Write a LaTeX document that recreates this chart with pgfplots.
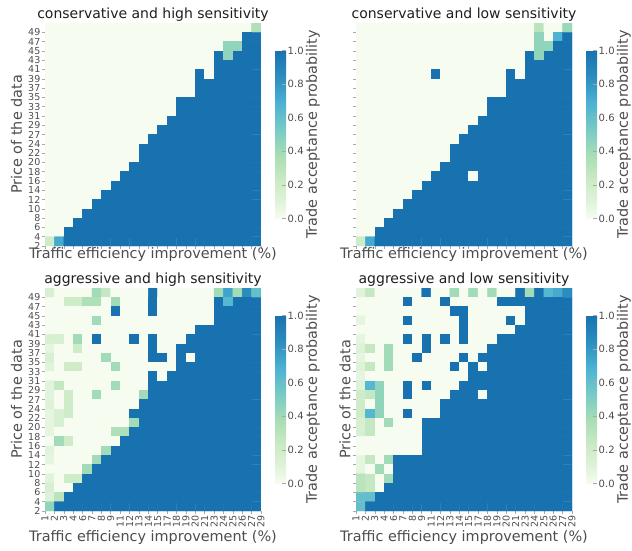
\documentclass[border=0pt]{standalone}
\usepackage{fontspec}
\setmainfont{DejaVu Sans}
\usepackage{pgfplots}
\usepackage{pgfplotstable}
\pgfplotsset{compat=1.18}

\definecolor{lblgray}{RGB}{77,77,77}
\definecolor{tkgray}{RGB}{170,170,170}
\definecolor{ttlblack}{RGB}{30,30,30}

\pgfplotsset{colormap={gnbu}{rgb255(0pt)=(247,252,240) rgb255(10pt)=(224,243,219)
  rgb255(22pt)=(204,235,197) rgb255(38pt)=(168,221,181) rgb255(52pt)=(123,204,196)
  rgb255(68pt)=(78,179,211) rgb255(85pt)=(43,140,190) rgb255(100pt)=(25,114,176)}}

% acceptance probability per cell: 23 columns, 24 rows, top row first
\pgfplotstableread[row sep=\\]{
c\\
0\\ 0\\ 0\\ 0\\ 0\\  0\\ 0\\ 0\\ 0\\ 0\\  0\\ 0\\ 0\\ 0\\ 0\\  0\\ 0\\ 0\\ 0\\ 0\\  0\\ 0\\ 0.35\\
0\\ 0\\ 0\\ 0\\ 0\\  0\\ 0\\ 0\\ 0\\ 0\\  0\\ 0\\ 0\\ 0\\ 0\\  0\\ 0\\ 0\\ 0\\ 0\\  0\\ 1\\ 1\\
0\\ 0\\ 0\\ 0\\ 0\\  0\\ 0\\ 0\\ 0\\ 0\\  0\\ 0\\ 0\\ 0\\ 0\\  0\\ 0\\ 0\\ 0\\ 0.45\\  0.45\\ 1\\ 1\\
0\\ 0\\ 0\\ 0\\ 0\\  0\\ 0\\ 0\\ 0\\ 0\\  0\\ 0\\ 0\\ 0\\ 0\\  0\\ 0\\ 0\\ 1\\ 0.45\\  1\\ 1\\ 1\\
0\\ 0\\ 0\\ 0\\ 0\\  0\\ 0\\ 0\\ 0\\ 0\\  0\\ 0\\ 0\\ 0\\ 0\\  0\\ 0\\ 0\\ 1\\ 1\\  1\\ 1\\ 1\\
0\\ 0\\ 0\\ 0\\ 0\\  0\\ 0\\ 0\\ 0\\ 0\\  0\\ 0\\ 0\\ 0\\ 0\\  0\\ 1\\ 0\\ 1\\ 1\\  1\\ 1\\ 1\\
0\\ 0\\ 0\\ 0\\ 0\\  0\\ 0\\ 0\\ 0\\ 0\\  0\\ 0\\ 0\\ 0\\ 0\\  0\\ 1\\ 1\\ 1\\ 1\\  1\\ 1\\ 1\\
0\\ 0\\ 0\\ 0\\ 0\\  0\\ 0\\ 0\\ 0\\ 0\\  0\\ 0\\ 0\\ 0\\ 0\\  0\\ 1\\ 1\\ 1\\ 1\\  1\\ 1\\ 1\\
0\\ 0\\ 0\\ 0\\ 0\\  0\\ 0\\ 0\\ 0\\ 0\\  0\\ 0\\ 0\\ 0\\ 1\\  1\\ 1\\ 1\\ 1\\ 1\\  1\\ 1\\ 1\\
0\\ 0\\ 0\\ 0\\ 0\\  0\\ 0\\ 0\\ 0\\ 0\\  0\\ 0\\ 0\\ 0\\ 1\\  1\\ 1\\ 1\\ 1\\ 1\\  1\\ 1\\ 1\\
0\\ 0\\ 0\\ 0\\ 0\\  0\\ 0\\ 0\\ 0\\ 0\\  0\\ 0\\ 0\\ 1\\ 1\\  1\\ 1\\ 1\\ 1\\ 1\\  1\\ 1\\ 1\\
0\\ 0\\ 0\\ 0\\ 0\\  0\\ 0\\ 0\\ 0\\ 0\\  0\\ 0\\ 1\\ 1\\ 1\\  1\\ 1\\ 1\\ 1\\ 1\\  1\\ 1\\ 1\\
0\\ 0\\ 0\\ 0\\ 0\\  0\\ 0\\ 0\\ 0\\ 0\\  0\\ 1\\ 1\\ 1\\ 1\\  1\\ 1\\ 1\\ 1\\ 1\\  1\\ 1\\ 1\\
0\\ 0\\ 0\\ 0\\ 0\\  0\\ 0\\ 0\\ 0\\ 0\\  1\\ 1\\ 1\\ 1\\ 1\\  1\\ 1\\ 1\\ 1\\ 1\\  1\\ 1\\ 1\\
0\\ 0\\ 0\\ 0\\ 0\\  0\\ 0\\ 0\\ 0\\ 0\\  1\\ 1\\ 1\\ 1\\ 1\\  1\\ 1\\ 1\\ 1\\ 1\\  1\\ 1\\ 1\\
0\\ 0\\ 0\\ 0\\ 0\\  0\\ 0\\ 0\\ 0\\ 1\\  1\\ 1\\ 1\\ 1\\ 1\\  1\\ 1\\ 1\\ 1\\ 1\\  1\\ 1\\ 1\\
0\\ 0\\ 0\\ 0\\ 0\\  0\\ 0\\ 0\\ 1\\ 1\\  1\\ 1\\ 1\\ 1\\ 1\\  1\\ 1\\ 1\\ 1\\ 1\\  1\\ 1\\ 1\\
0\\ 0\\ 0\\ 0\\ 0\\  0\\ 0\\ 1\\ 1\\ 1\\  1\\ 1\\ 1\\ 1\\ 1\\  1\\ 1\\ 1\\ 1\\ 1\\  1\\ 1\\ 1\\
0\\ 0\\ 0\\ 0\\ 0\\  0\\ 1\\ 1\\ 1\\ 1\\  1\\ 1\\ 1\\ 1\\ 1\\  1\\ 1\\ 1\\ 1\\ 1\\  1\\ 1\\ 1\\
0\\ 0\\ 0\\ 0\\ 0\\  1\\ 1\\ 1\\ 1\\ 1\\  1\\ 1\\ 1\\ 1\\ 1\\  1\\ 1\\ 1\\ 1\\ 1\\  1\\ 1\\ 1\\
0\\ 0\\ 0\\ 0\\ 1\\  1\\ 1\\ 1\\ 1\\ 1\\  1\\ 1\\ 1\\ 1\\ 1\\  1\\ 1\\ 1\\ 1\\ 1\\  1\\ 1\\ 1\\
0\\ 0\\ 0\\ 1\\ 1\\  1\\ 1\\ 1\\ 1\\ 1\\  1\\ 1\\ 1\\ 1\\ 1\\  1\\ 1\\ 1\\ 1\\ 1\\  1\\ 1\\ 1\\
0\\ 0\\ 1\\ 1\\ 1\\  1\\ 1\\ 1\\ 1\\ 1\\  1\\ 1\\ 1\\ 1\\ 1\\  1\\ 1\\ 1\\ 1\\ 1\\  1\\ 1\\ 1\\
0.2\\ 0.72\\ 1\\ 1\\ 1\\  1\\ 1\\ 1\\ 1\\ 1\\  1\\ 1\\ 1\\ 1\\ 1\\  1\\ 1\\ 1\\ 1\\ 1\\  1\\ 1\\ 1\\
}\conshigh

\pgfplotstableread[row sep=\\]{
c\\
0\\ 0\\ 0\\ 0\\ 0\\  0\\ 0\\ 0\\ 0\\ 0\\  0\\ 0\\ 0\\ 0\\ 0\\  0\\ 0\\ 0\\ 0\\ 0.3\\  0\\ 0\\ 0.42\\
0\\ 0\\ 0\\ 0\\ 0\\  0\\ 0\\ 0\\ 0\\ 0\\  0\\ 0\\ 0\\ 0\\ 0\\  0\\ 0\\ 0\\ 0\\ 0.45\\  0\\ 0.68\\ 1\\
0\\ 0\\ 0\\ 0\\ 0\\  0\\ 0\\ 0\\ 0\\ 0\\  0\\ 0\\ 0\\ 0\\ 0\\  0\\ 0\\ 0\\ 0\\ 0.45\\  0.45\\ 1\\ 1\\
0\\ 0\\ 0\\ 0\\ 0\\  0\\ 0\\ 0\\ 0\\ 0\\  0\\ 0\\ 0\\ 0\\ 0\\  0\\ 0\\ 0\\ 1\\ 0.45\\  1\\ 1\\ 1\\
0\\ 0\\ 0\\ 0\\ 0\\  0\\ 0\\ 0\\ 0\\ 0\\  0\\ 0\\ 0\\ 0\\ 0\\  0\\ 0\\ 0\\ 1\\ 1\\  1\\ 1\\ 1\\
0\\ 0\\ 0\\ 0\\ 0\\  0\\ 0\\ 0\\ 1\\ 0\\  0\\ 0\\ 0\\ 0\\ 0\\  0\\ 1\\ 0\\ 1\\ 1\\  1\\ 1\\ 1\\
0\\ 0\\ 0\\ 0\\ 0\\  0\\ 0\\ 0\\ 0\\ 0\\  0\\ 0\\ 0\\ 0\\ 0\\  0\\ 1\\ 1\\ 1\\ 1\\  1\\ 1\\ 1\\
0\\ 0\\ 0\\ 0\\ 0\\  0\\ 0\\ 0\\ 0\\ 0\\  0\\ 0\\ 0\\ 0\\ 0\\  0\\ 1\\ 1\\ 1\\ 1\\  1\\ 1\\ 1\\
0\\ 0\\ 0\\ 0\\ 0\\  0\\ 0\\ 0\\ 0\\ 0\\  0\\ 0\\ 0\\ 0\\ 1\\  1\\ 1\\ 1\\ 1\\ 1\\  1\\ 1\\ 1\\
0\\ 0\\ 0\\ 0\\ 0\\  0\\ 0\\ 0\\ 0\\ 0\\  0\\ 0\\ 0\\ 0\\ 1\\  1\\ 1\\ 1\\ 1\\ 1\\  1\\ 1\\ 1\\
0\\ 0\\ 0\\ 0\\ 0\\  0\\ 0\\ 0\\ 0\\ 0\\  0\\ 0\\ 0\\ 1\\ 1\\  1\\ 1\\ 1\\ 1\\ 1\\  1\\ 1\\ 1\\
0\\ 0\\ 0\\ 0\\ 0\\  0\\ 0\\ 0\\ 0\\ 0\\  0\\ 0\\ 1\\ 1\\ 1\\  1\\ 1\\ 1\\ 1\\ 1\\  1\\ 1\\ 1\\
0\\ 0\\ 0\\ 0\\ 0\\  0\\ 0\\ 0\\ 0\\ 0\\  0\\ 1\\ 1\\ 1\\ 1\\  1\\ 1\\ 1\\ 1\\ 1\\  1\\ 1\\ 1\\
0\\ 0\\ 0\\ 0\\ 0\\  0\\ 0\\ 0\\ 0\\ 0\\  1\\ 1\\ 1\\ 1\\ 1\\  1\\ 1\\ 1\\ 1\\ 1\\  1\\ 1\\ 1\\
0\\ 0\\ 0\\ 0\\ 0\\  0\\ 0\\ 0\\ 0\\ 0\\  1\\ 1\\ 1\\ 1\\ 1\\  1\\ 1\\ 1\\ 1\\ 1\\  1\\ 1\\ 1\\
0\\ 0\\ 0\\ 0\\ 0\\  0\\ 0\\ 0\\ 0\\ 1\\  1\\ 1\\ 1\\ 1\\ 1\\  1\\ 1\\ 1\\ 1\\ 1\\  1\\ 1\\ 1\\
0\\ 0\\ 0\\ 0\\ 0\\  0\\ 0\\ 0\\ 1\\ 1\\  1\\ 1\\ 0\\ 1\\ 1\\  1\\ 1\\ 1\\ 1\\ 1\\  1\\ 1\\ 1\\
0\\ 0\\ 0\\ 0\\ 0\\  0\\ 0\\ 1\\ 1\\ 1\\  1\\ 1\\ 1\\ 1\\ 1\\  1\\ 1\\ 1\\ 1\\ 1\\  1\\ 1\\ 1\\
0\\ 0\\ 0\\ 0\\ 0\\  0\\ 1\\ 1\\ 1\\ 1\\  1\\ 1\\ 1\\ 1\\ 1\\  1\\ 1\\ 1\\ 1\\ 1\\  1\\ 1\\ 1\\
0\\ 0\\ 0\\ 0\\ 0\\  1\\ 1\\ 1\\ 1\\ 1\\  1\\ 1\\ 1\\ 1\\ 1\\  1\\ 1\\ 1\\ 1\\ 1\\  1\\ 1\\ 1\\
0\\ 0\\ 0\\ 0\\ 1\\  1\\ 1\\ 1\\ 1\\ 1\\  1\\ 1\\ 1\\ 1\\ 1\\  1\\ 1\\ 1\\ 1\\ 1\\  1\\ 1\\ 1\\
0\\ 0\\ 0\\ 1\\ 1\\  1\\ 1\\ 1\\ 1\\ 1\\  1\\ 1\\ 1\\ 1\\ 1\\  1\\ 1\\ 1\\ 1\\ 1\\  1\\ 1\\ 1\\
0\\ 0\\ 1\\ 1\\ 1\\  1\\ 1\\ 1\\ 1\\ 1\\  1\\ 1\\ 1\\ 1\\ 1\\  1\\ 1\\ 1\\ 1\\ 1\\  1\\ 1\\ 1\\
0.2\\ 0.72\\ 1\\ 1\\ 1\\  1\\ 1\\ 1\\ 1\\ 1\\  1\\ 1\\ 1\\ 1\\ 1\\  1\\ 1\\ 1\\ 1\\ 1\\  1\\ 1\\ 1\\
}\conslow

\pgfplotstableread[row sep=\\]{
c\\
0.15\\ 0\\ 0\\ 0\\ 0\\  0.4\\ 0.25\\ 0\\ 0\\ 0\\  0\\ 1\\ 0\\ 0\\ 0\\  0\\ 0\\ 0\\ 0.4\\ 0.75\\  0.4\\ 0.85\\ 0.6\\
0\\ 0\\ 0.2\\ 0.2\\ 0.35\\  0.35\\ 0\\ 0.4\\ 0\\ 0\\  0\\ 1\\ 0\\ 0\\ 0\\  0\\ 0\\ 0\\ 1\\ 0.65\\  1\\ 1\\ 1\\
0\\ 0\\ 0\\ 0\\ 0\\  0\\ 0\\ 1\\ 0\\ 0\\  0\\ 1\\ 0\\ 0\\ 0\\  0\\ 0\\ 0\\ 1\\ 1\\  1\\ 1\\ 1\\
0\\ 0\\ 0\\ 0\\ 0\\  0.4\\ 0\\ 0\\ 0\\ 0\\  0\\ 0\\ 0\\ 0\\ 0\\  0\\ 0\\ 0\\ 1\\ 1\\  1\\ 1\\ 1\\
0\\ 0\\ 0\\ 0\\ 0\\  0\\ 0\\ 0\\ 0\\ 0\\  0\\ 0\\ 0\\ 0\\ 0\\  0\\ 1\\ 1\\ 1\\ 1\\  1\\ 1\\ 1\\
0.15\\ 0.15\\ 0\\ 0.4\\ 0\\  1\\ 0\\ 0\\ 0\\ 1\\  0\\ 1\\ 0\\ 0\\ 0\\  1\\ 1\\ 1\\ 1\\ 1\\  1\\ 1\\ 1\\
0.08\\ 0\\ 0\\ 0.2\\ 0\\  0\\ 0\\ 0\\ 0\\ 0\\  0\\ 1\\ 0\\ 0\\ 1\\  1\\ 1\\ 1\\ 1\\ 1\\  1\\ 1\\ 1\\
0.15\\ 0\\ 0\\ 0\\ 0\\  0\\ 0.4\\ 0\\ 0\\ 0\\  0\\ 1\\ 1\\ 0\\ 1\\  0\\ 1\\ 1\\ 1\\ 1\\  1\\ 1\\ 1\\
0.1\\ 0\\ 0.2\\ 0.2\\ 0\\  0\\ 0\\ 0.4\\ 0\\ 0\\  0\\ 0\\ 0\\ 0\\ 1\\  1\\ 1\\ 1\\ 1\\ 1\\  1\\ 1\\ 1\\
0\\ 0\\ 0\\ 0\\ 0\\  0\\ 0\\ 0\\ 0\\ 0\\  0\\ 1\\ 0\\ 1\\ 1\\  1\\ 1\\ 1\\ 1\\ 1\\  1\\ 1\\ 1\\
0.1\\ 0.25\\ 0\\ 0\\ 0\\  0\\ 0\\ 0.4\\ 0\\ 0\\  0\\ 1\\ 1\\ 1\\ 1\\  1\\ 1\\ 1\\ 1\\ 1\\  1\\ 1\\ 1\\
0.1\\ 0\\ 0.2\\ 0\\ 0\\  0.4\\ 0\\ 0\\ 0\\ 0\\  0.4\\ 1\\ 1\\ 1\\ 1\\  1\\ 1\\ 1\\ 1\\ 1\\  1\\ 1\\ 1\\
0.12\\ 0\\ 0.2\\ 0\\ 0\\  0\\ 0\\ 0\\ 0\\ 0\\  1\\ 1\\ 1\\ 1\\ 1\\  1\\ 1\\ 1\\ 1\\ 1\\  1\\ 1\\ 1\\
0.08\\ 0.15\\ 0.2\\ 0\\ 0\\  0\\ 0\\ 0\\ 0\\ 1\\  1\\ 1\\ 1\\ 1\\ 1\\  1\\ 1\\ 1\\ 1\\ 1\\  1\\ 1\\ 1\\
0.08\\ 0.15\\ 0\\ 0\\ 0\\  0\\ 0\\ 0\\ 0\\ 0.4\\  1\\ 1\\ 1\\ 1\\ 1\\  1\\ 1\\ 1\\ 1\\ 1\\  1\\ 1\\ 1\\
0.08\\ 0\\ 0\\ 0\\ 0\\  0\\ 0\\ 0.35\\ 0.35\\ 1\\  1\\ 1\\ 1\\ 1\\ 1\\  1\\ 1\\ 1\\ 1\\ 1\\  1\\ 1\\ 1\\
0\\ 0.4\\ 0.2\\ 0\\ 0\\  0\\ 0\\ 0\\ 1\\ 1\\  1\\ 1\\ 1\\ 1\\ 1\\  1\\ 1\\ 1\\ 1\\ 1\\  1\\ 1\\ 1\\
0.1\\ 0\\ 0\\ 0\\ 0\\  0\\ 0.4\\ 1\\ 1\\ 1\\  1\\ 1\\ 1\\ 1\\ 1\\  1\\ 1\\ 1\\ 1\\ 1\\  1\\ 1\\ 1\\
0.08\\ 0\\ 0\\ 0\\ 0\\  0.4\\ 1\\ 1\\ 1\\ 1\\  1\\ 1\\ 1\\ 1\\ 1\\  1\\ 1\\ 1\\ 1\\ 1\\  1\\ 1\\ 1\\
0\\ 0\\ 0\\ 0\\ 0.4\\  1\\ 1\\ 1\\ 1\\ 1\\  1\\ 1\\ 1\\ 1\\ 1\\  1\\ 1\\ 1\\ 1\\ 1\\  1\\ 1\\ 1\\
0.1\\ 0\\ 0.2\\ 0.2\\ 1\\  1\\ 1\\ 1\\ 1\\ 1\\  1\\ 1\\ 1\\ 1\\ 1\\  1\\ 1\\ 1\\ 1\\ 1\\  1\\ 1\\ 1\\
0.15\\ 0\\ 0\\ 1\\ 1\\  1\\ 1\\ 1\\ 1\\ 1\\  1\\ 1\\ 1\\ 1\\ 1\\  1\\ 1\\ 1\\ 1\\ 1\\  1\\ 1\\ 1\\
0.12\\ 0.3\\ 1\\ 1\\ 1\\  1\\ 1\\ 1\\ 1\\ 1\\  1\\ 1\\ 1\\ 1\\ 1\\  1\\ 1\\ 1\\ 1\\ 1\\  1\\ 1\\ 1\\
0.45\\ 1\\ 1\\ 1\\ 1\\  1\\ 1\\ 1\\ 1\\ 1\\  1\\ 1\\ 1\\ 1\\ 1\\  1\\ 1\\ 1\\ 1\\ 1\\  1\\ 1\\ 1\\
}\agghigh

\pgfplotstableread[row sep=\\]{
c\\
0.1\\ 0.25\\ 0\\ 0\\ 0\\  0\\ 0\\ 1\\ 0\\ 0\\  0.4\\ 0\\ 0.4\\ 0\\ 0.4\\  0\\ 0\\ 1\\ 0.4\\ 1\\  0.65\\ 0.72\\ 0.85\\
0\\ 0\\ 0\\ 0\\ 0\\  1\\ 0\\ 0\\ 0\\ 1\\  0\\ 0\\ 0\\ 0\\ 0\\  1\\ 1\\ 1\\ 1\\ 1\\  1\\ 1\\ 1\\
0\\ 0\\ 0\\ 0\\ 0\\  0\\ 0\\ 0\\ 0\\ 0\\  1\\ 1\\ 0\\ 0\\ 0\\  0\\ 0\\ 0\\ 1\\ 1\\  1\\ 1\\ 1\\
0.08\\ 0\\ 0\\ 0\\ 0\\  1\\ 0\\ 0\\ 0\\ 0\\  0\\ 1\\ 0\\ 0\\ 0\\  0\\ 1\\ 0\\ 1\\ 1\\  1\\ 1\\ 1\\
0\\ 0\\ 0\\ 0\\ 0\\  0\\ 0\\ 0\\ 0\\ 0\\  0\\ 1\\ 0\\ 0\\ 0\\  0\\ 0\\ 1\\ 1\\ 1\\  1\\ 1\\ 1\\
0.08\\ 0\\ 0\\ 0\\ 0\\  1\\ 0\\ 1\\ 0\\ 1\\  0\\ 1\\ 0\\ 0\\ 0\\  1\\ 1\\ 1\\ 1\\ 1\\  1\\ 1\\ 1\\
0.12\\ 0.25\\ 0\\ 0.4\\ 0\\  0\\ 0\\ 1\\ 0\\ 0\\  0\\ 0\\ 0\\ 0\\ 1\\  1\\ 1\\ 1\\ 1\\ 1\\  1\\ 1\\ 1\\
0.08\\ 0\\ 0\\ 0.4\\ 0\\  0\\ 1\\ 0\\ 0\\ 0\\  0\\ 1\\ 0\\ 1\\ 1\\  1\\ 1\\ 1\\ 1\\ 1\\  1\\ 1\\ 1\\
0.12\\ 0.25\\ 0\\ 0.4\\ 0\\  0\\ 0\\ 0\\ 0\\ 0\\  1\\ 0\\ 1\\ 0\\ 1\\  1\\ 1\\ 1\\ 1\\ 1\\  1\\ 1\\ 1\\
0.08\\ 0\\ 0\\ 0\\ 0\\  0\\ 0\\ 0\\ 0\\ 0\\  0\\ 0\\ 1\\ 1\\ 1\\  1\\ 1\\ 1\\ 1\\ 1\\  1\\ 1\\ 1\\
0.12\\ 0.65\\ 0.45\\ 0\\ 0\\  1\\ 0\\ 1\\ 0\\ 0\\  0\\ 1\\ 1\\ 1\\ 1\\  1\\ 1\\ 1\\ 1\\ 1\\  1\\ 1\\ 1\\
0.2\\ 0.25\\ 0.45\\ 0\\ 0\\  1\\ 0\\ 0\\ 0\\ 0\\  1\\ 1\\ 1\\ 0\\ 1\\  1\\ 1\\ 1\\ 1\\ 1\\  1\\ 1\\ 1\\
0.2\\ 0\\ 0.45\\ 0\\ 0\\  0\\ 0\\ 0\\ 0\\ 1\\  1\\ 1\\ 1\\ 1\\ 1\\  1\\ 1\\ 1\\ 1\\ 1\\  1\\ 1\\ 1\\
0.2\\ 0.65\\ 0.45\\ 0\\ 0\\  1\\ 0\\ 0\\ 0\\ 1\\  1\\ 1\\ 1\\ 1\\ 1\\  1\\ 1\\ 1\\ 1\\ 1\\  1\\ 1\\ 1\\
0.15\\ 0.25\\ 0\\ 0.4\\ 0\\  0\\ 0\\ 1\\ 1\\ 1\\  1\\ 1\\ 1\\ 1\\ 1\\  1\\ 1\\ 1\\ 1\\ 1\\  1\\ 1\\ 1\\
0.15\\ 0.25\\ 0\\ 0\\ 0\\  0\\ 0\\ 1\\ 1\\ 1\\  1\\ 1\\ 1\\ 1\\ 1\\  1\\ 1\\ 1\\ 1\\ 1\\  1\\ 1\\ 1\\
0\\ 0\\ 0\\ 0\\ 0\\  0\\ 0\\ 1\\ 1\\ 1\\  1\\ 1\\ 1\\ 1\\ 1\\  1\\ 1\\ 1\\ 1\\ 1\\  1\\ 1\\ 1\\
0\\ 0\\ 0\\ 0\\ 0\\  0\\ 0\\ 1\\ 1\\ 1\\  1\\ 1\\ 1\\ 1\\ 1\\  1\\ 1\\ 1\\ 1\\ 1\\  1\\ 1\\ 1\\
0.08\\ 0.25\\ 0\\ 0.4\\ 1\\  1\\ 1\\ 1\\ 1\\ 1\\  1\\ 1\\ 1\\ 1\\ 1\\  1\\ 1\\ 1\\ 1\\ 1\\  1\\ 1\\ 1\\
0.08\\ 0\\ 0.4\\ 0\\ 1\\  1\\ 1\\ 1\\ 1\\ 1\\  1\\ 1\\ 1\\ 1\\ 1\\  1\\ 1\\ 1\\ 1\\ 1\\  1\\ 1\\ 1\\
0.3\\ 0.25\\ 0\\ 0.4\\ 1\\  1\\ 1\\ 1\\ 1\\ 1\\  1\\ 1\\ 1\\ 1\\ 1\\  1\\ 1\\ 1\\ 1\\ 1\\  1\\ 1\\ 1\\
0.3\\ 0.25\\ 0\\ 1\\ 1\\  1\\ 1\\ 1\\ 1\\ 1\\  1\\ 1\\ 1\\ 1\\ 1\\  1\\ 1\\ 1\\ 1\\ 1\\  1\\ 1\\ 1\\
0.6\\ 0.6\\ 1\\ 1\\ 1\\  1\\ 1\\ 1\\ 1\\ 1\\  1\\ 1\\ 1\\ 1\\ 1\\  1\\ 1\\ 1\\ 1\\ 1\\  1\\ 1\\ 1\\
0.6\\ 1\\ 1\\ 1\\ 1\\  1\\ 1\\ 1\\ 1\\ 1\\  1\\ 1\\ 1\\ 1\\ 1\\  1\\ 1\\ 1\\ 1\\ 1\\  1\\ 1\\ 1\\
}\agglow

\pgfplotsset{
  heat/.style={
    anchor=south west,
    width=216pt, height=223pt, scale only axis,
    xmin=0, xmax=23, ymin=0, ymax=24,
    enlargelimits=false,
    axis line style={draw=none},
    xtick={0,...,23}, ytick={0,...,23},
    xtick pos=bottom, ytick pos=left,
    tick align=outside, major tick length=3pt,
    tick style={tkgray, line width=0.5pt},
    xticklabel style={font=\fontsize{9.5}{10}\selectfont, text=lblgray, rotate=90, anchor=east, inner sep=1.5pt},
    yticklabel style={font=\fontsize{9.5}{10}\selectfont, text=lblgray, inner sep=1.5pt},
    point meta min=0, point meta max=1,
    every axis title/.style={font=\fontsize{14}{16}\selectfont, text=ttlblack, at={(0.5,1)}, anchor=south, inner sep=1pt},
    xlabel style={font=\fontsize{14.4}{17}\selectfont, text=lblgray, anchor=center},
    ylabel style={font=\fontsize{14.4}{17}\selectfont, text=lblgray, anchor=center},
    xlabel={Traffic efficiency improvement (\%)},
    colorbar,
    colorbar style={
      at={(parent axis.east)}, anchor=west, xshift=5.5pt,
      width=11pt, height=168pt,
      title={}, xlabel={}, xtick=\empty,
      axis line style={draw=none},
      ytick={0,0.2,0.4,0.6,0.8,1},
      yticklabels={0.0,0.2,0.4,0.6,0.8,1.0},
      ytick pos=right, yticklabel pos=right,
      yticklabel style={font=\fontsize{10}{11}\selectfont, text=lblgray, anchor=west, inner sep=1.5pt},
      ylabel={Trade acceptance probability},
      ylabel style={font=\fontsize{14.4}{17}\selectfont, text=lblgray, at={(axis description cs:3.45,0.5)}, anchor=center},
    },
  },
  cells/.style={matrix plot*, mesh/cols=23, mesh/rows=24, point meta=explicit},
  leftlabels/.style={
    yticklabels={2,4,6,8,10,12,14,16,18,20,22,24,27,29,31,33,35,37,39,41,43,45,47,49},
  },
  bottomlabels/.style={
    xticklabels={1,2,3,4,6,7,8,9,11,12,13,14,15,17,18,19,20,21,23,24,25,26,27,29},
  },
}

\begin{document}
\begin{tikzpicture}
\path[use as bounding box] (0,0) rectangle (632pt,550pt);

\begin{axis}[heat, at={(45pt,304pt)}, leftlabels, xticklabels={},
  title={conservative and high sensitivity},
  ylabel={Price of the data},
  ylabel style={at={(axis description cs:-0.132,0.5)}},
  xlabel style={at={(axis description cs:0.5,-0.04)}}]
  \addplot[cells] table[x index=0, y index=0, x expr={mod(\coordindex,23)+0.5}, y expr={23.5-floor((\coordindex+0.5)/23)}, meta index=0] {\conshigh};
\end{axis}

\begin{axis}[heat, at={(356pt,304pt)}, xticklabels={}, yticklabels={},
  title={conservative and low sensitivity},
  xlabel style={at={(axis description cs:0.5,-0.04)}}]
  \addplot[cells] table[x index=0, y index=0, x expr={mod(\coordindex,23)+0.5}, y expr={23.5-floor((\coordindex+0.5)/23)}, meta index=0] {\conslow};
\end{axis}

\begin{axis}[heat, at={(45pt,39pt)}, leftlabels, bottomlabels,
  title={aggressive and high sensitivity},
  ylabel={Price of the data},
  ylabel style={at={(axis description cs:-0.132,0.5)}},
  xlabel style={at={(axis description cs:0.5,-0.117)}}]
  \addplot[cells] table[x index=0, y index=0, x expr={mod(\coordindex,23)+0.5}, y expr={23.5-floor((\coordindex+0.5)/23)}, meta index=0] {\agghigh};
\end{axis}

\begin{axis}[heat, at={(356pt,39pt)}, bottomlabels, yticklabels={},
  title={aggressive and low sensitivity},
  ylabel={Price of the data},
  ylabel style={at={(axis description cs:-0.051,0.5)}},
  xlabel style={at={(axis description cs:0.5,-0.117)}}]
  \addplot[cells] table[x index=0, y index=0, x expr={mod(\coordindex,23)+0.5}, y expr={23.5-floor((\coordindex+0.5)/23)}, meta index=0] {\agglow};
\end{axis}
\end{tikzpicture}
\end{document}
